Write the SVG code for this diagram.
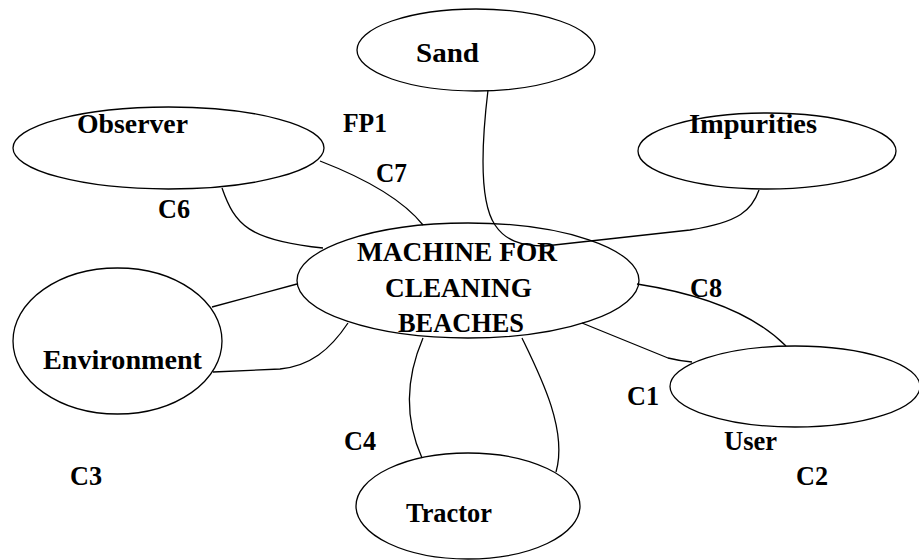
<svg xmlns="http://www.w3.org/2000/svg" width="919" height="560" viewBox="0 0 919 560">
<style>
.n{fill:none;stroke:#000;stroke-width:1.3}
.c{fill:none;stroke:#000;stroke-width:1.3}
text{font-family:"Liberation Serif","Times New Roman",serif;font-weight:bold;font-size:26.5px;fill:#000}
</style>
<rect width="919" height="560" fill="#fff"/>
<g id="sand"><ellipse class="n" cx="476" cy="50" rx="119" ry="41"/><text x="416" y="62" textLength="63" lengthAdjust="spacingAndGlyphs">Sand</text></g>
<g id="observer"><ellipse class="n" cx="168.5" cy="148" rx="155.5" ry="41"/><text x="77" y="133" textLength="111" lengthAdjust="spacingAndGlyphs">Observer</text></g>
<g id="impurities"><ellipse class="n" cx="767" cy="151" rx="129" ry="38"/><text x="689" y="133" textLength="128" lengthAdjust="spacingAndGlyphs">Impurities</text></g>
<g id="machine"><ellipse class="n" cx="468" cy="280.5" rx="171" ry="57.5"/>
<text x="357" y="261" textLength="200" lengthAdjust="spacingAndGlyphs">MACHINE FOR</text>
<text x="385" y="297" textLength="147" lengthAdjust="spacingAndGlyphs">CLEANING</text>
<text x="398" y="332" textLength="126" lengthAdjust="spacingAndGlyphs">BEACHES</text></g>
<g id="environment"><ellipse class="n" cx="117.5" cy="341" rx="104.5" ry="73"/><text x="43" y="369" textLength="159" lengthAdjust="spacingAndGlyphs">Environment</text></g>
<g id="tractor"><ellipse class="n" cx="468" cy="506" rx="112" ry="53"/><text x="406" y="522" textLength="86" lengthAdjust="spacingAndGlyphs">Tractor</text></g>
<g id="user"><ellipse class="n" cx="795" cy="386.5" rx="125" ry="40.5"/><text x="724" y="450" textLength="53" lengthAdjust="spacingAndGlyphs">User</text></g>
<g id="connectors">
<path class="c" d="M320,161 Q395,190 423,225"/>
<path class="c" d="M222,188 C235,225 248,240 323,248"/>
<path class="c" d="M488,90 C482,140 478,200 495,225 C505,240 520,246 545,246 L690,230 C740,222 752,210 759,190"/>
<path class="c" d="M212,307 L297,284"/>
<path class="c" d="M213,372 L280,369 C310,366 330,350 348,323"/>
<path class="c" d="M423,338 C405,380 405,420 422,458"/>
<path class="c" d="M522,338 C540,375 568,430 556,472"/>
<path class="c" d="M637,284 Q740,300 786,346"/>
<path class="c" d="M582,323 L668,358 Q680,361 692,362"/>
</g>
<g id="labels">
<text x="343" y="132" textLength="44" lengthAdjust="spacingAndGlyphs">FP1</text>
<text x="376" y="182" textLength="31" lengthAdjust="spacingAndGlyphs">C7</text>
<text x="158" y="218" textLength="32" lengthAdjust="spacingAndGlyphs">C6</text>
<text x="690" y="297" textLength="32" lengthAdjust="spacingAndGlyphs">C8</text>
<text x="627" y="405" textLength="32" lengthAdjust="spacingAndGlyphs">C1</text>
<text x="796" y="485" textLength="32" lengthAdjust="spacingAndGlyphs">C2</text>
<text x="70" y="485" textLength="32" lengthAdjust="spacingAndGlyphs">C3</text>
<text x="344" y="450" textLength="32" lengthAdjust="spacingAndGlyphs">C4</text>
</g>
</svg>
